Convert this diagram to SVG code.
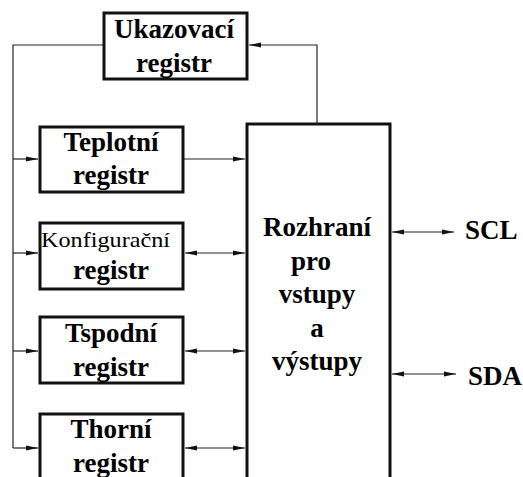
<svg xmlns="http://www.w3.org/2000/svg" width="523" height="477" viewBox="0 0 523 477">
<defs>
<style>
.box{fill:#fff;stroke:#111;stroke-width:3}
.t{font-weight:bold;font-size:27px;fill:#000;text-anchor:middle}
.k{font-size:21px;fill:#000}
.c{fill:none;stroke:#222;stroke-width:1.2}
</style>
<marker id="ah" markerUnits="userSpaceOnUse" markerWidth="13" markerHeight="7" refX="12" refY="3.5" orient="auto-start-reverse">
<path d="M0,1 L12,3.5 L0,6 Z" fill="#111"/>
</marker>
</defs>
<rect width="523" height="477" fill="#fff"/>
<g id="connectors">
<path class="c" d="M104,45 H13 V448"/>
<path class="c" d="M317,124 V45 H249" marker-end="url(#ah)"/>
<path class="c" d="M13,159 H38" marker-end="url(#ah)"/>
<path class="c" d="M13,253 H38" marker-end="url(#ah)"/>
<path class="c" d="M13,351 H38" marker-end="url(#ah)"/>
<path class="c" d="M13,448 H38" marker-end="url(#ah)"/>
<path class="c" d="M184,159 H245" marker-end="url(#ah)"/>
<path class="c" d="M185,253 H245" marker-start="url(#ah)" marker-end="url(#ah)"/>
<path class="c" d="M185,351 H245" marker-start="url(#ah)" marker-end="url(#ah)"/>
<path class="c" d="M185,448 H245" marker-start="url(#ah)" marker-end="url(#ah)"/>
<path class="c" d="M392,232 H454" marker-start="url(#ah)" marker-end="url(#ah)"/>
<path class="c" d="M392,374 H456" marker-start="url(#ah)" marker-end="url(#ah)"/>
</g>
<g font-family="Liberation Serif, Times New Roman, Times, serif">
<g id="ukazovaci">
<rect class="box" x="104" y="13" width="143" height="66"/>
<text class="t" x="174" y="38">Ukazovací</text>
<text class="t" x="174" y="72">registr</text>
</g>
<g id="teplotni">
<rect class="box" x="40" y="127" width="143" height="65"/>
<text class="t" x="111" y="151">Teplotní</text>
<text class="t" x="111" y="184">registr</text>
</g>
<g id="konfiguracni">
<rect class="box" x="40" y="223" width="143" height="66"/>
<text class="k" x="41" y="247" textLength="129" lengthAdjust="spacingAndGlyphs">Konfigurační</text>
<text class="t" x="111" y="279">registr</text>
</g>
<g id="tspodni">
<rect class="box" x="40" y="317" width="143" height="66"/>
<text class="t" x="111" y="342">Tspodní</text>
<text class="t" x="111" y="376">registr</text>
</g>
<g id="thorni">
<rect class="box" x="40" y="414" width="143" height="80"/>
<text class="t" x="111" y="438">Thorní</text>
<text class="t" x="111" y="472">registr</text>
</g>
<g id="rozhrani">
<rect class="box" x="247" y="124" width="143" height="370"/>
<text class="t" x="317" y="236">Rozhraní</text>
<text class="t" x="311" y="270">pro</text>
<text class="t" x="317" y="303">vstupy</text>
<text class="t" x="317" y="337">a</text>
<text class="t" x="317" y="370">výstupy</text>
</g>
<g id="scl">
<text class="t" x="465" y="239" text-anchor="start" style="text-anchor:start">SCL</text>
</g>
<g id="sda">
<text class="t" x="468" y="385" style="text-anchor:start">SDA</text>
</g>
</g>
</svg>
